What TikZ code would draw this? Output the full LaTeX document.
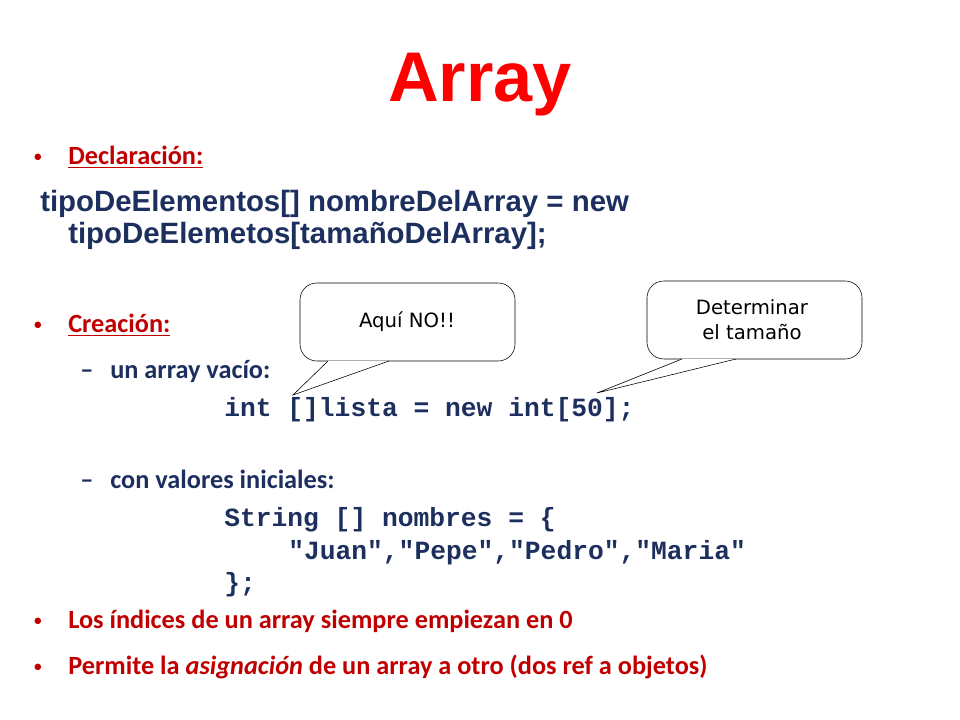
\documentclass[tikz,border=0pt]{standalone}
\usepackage{fontspec}
\setmainfont{Carlito}
\newfontfamily\arialfont{Liberation Sans}
\newfontfamily\codefont{Liberation Mono}
\newfontfamily\notefont{DejaVu Sans}
\definecolor{darkred}{HTML}{C00000}
\definecolor{navy}{HTML}{1C2F5E}
\begin{document}
\begin{tikzpicture}[x=0.025cm,y=-0.025cm]
\tikzset{txt/.style={anchor=base west,inner sep=0pt,font=\bfseries\fontsize{18.7}{22}\selectfont},
         redtxt/.style={txt,text=darkred},
         navytxt/.style={txt,text=navy},
         dot/.style={anchor=base west,inner sep=0pt,text=darkred,font=\fontsize{13}{16}\selectfont},
         code/.style={anchor=base west,inner sep=0pt,text=navy,font=\codefont\bfseries\fontsize{18.7}{22}\selectfont},
         bubble/.style={draw=black,fill=white,rounded corners=12pt,line width=0.4pt}}
\useasboundingbox (0,0) rectangle (960,720);

\node[anchor=base,inner sep=0pt,text=red,font=\arialfont\bfseries\fontsize{50}{60}\selectfont] (title) at (480,102) {Array};

% bullets
\node[dot] (b1) at (33,163) {•};
\node[redtxt] (decl) at (68,165) {\underline{Declaración:}};
\node[navytxt,font=\arialfont\bfseries\fontsize{20.9}{25}\selectfont] (sig1) at (40,212) {tipoDeElementos[] nombreDelArray = new};
\node[navytxt,font=\arialfont\bfseries\fontsize{20.9}{25}\selectfont] (sig2) at (68,244) {tipoDeElemetos[tamañoDelArray];};

\node[dot] (b2) at (33,331) {•};
\node[redtxt] (crea) at (68,333) {\underline{Creación:}};
\node[navytxt] (d1) at (80,379) {–};
\node[navytxt] (vacio) at (110,379) {un array vacío:};
\node[code] (lista) at (224,417) {int []lista = new int[50];};
\node[navytxt] (d2) at (80,489) {–};
\node[navytxt] (inic) at (110,489) {con valores iniciales:};
\node[code] (str1) at (224,527) {String [] nombres = \{};
\node[code] (str2) at (288,559) {"Juan","Pepe","Pedro","Maria"};
\node[code] (str3) at (224,591) {\};};

\node[dot] (b3) at (33,626) {•};
\node[redtxt] (indices) at (68,628) {Los índices de un array siempre empiezan en 0};
\node[dot] (b4) at (33,672) {•};
\node[redtxt] (asig) at (68,674) {Permite la \textit{asignación} de un array a otro (dos ref a objetos)};

% callouts
\coordinate (tip1) at (293,395);
\coordinate (tip2) at (597,393);
\draw[bubble] (300,283) rectangle (515,361);
\draw[fill=white,line join=miter] (328,361) -- (tip1) -- (389,361);
\node[font=\notefont\fontsize{14}{17}\selectfont] (nota1) at (407,322) {Aquí NO!!};
\draw[bubble] (647,281) rectangle (862,359);
\draw[fill=white] (682,359) -- (tip2) -- (736,359);
\node[align=center,font=\notefont\fontsize{14}{18}\selectfont] (nota2) at (752,320) {Determinar\\ el tamaño};
\end{tikzpicture}
\end{document}
